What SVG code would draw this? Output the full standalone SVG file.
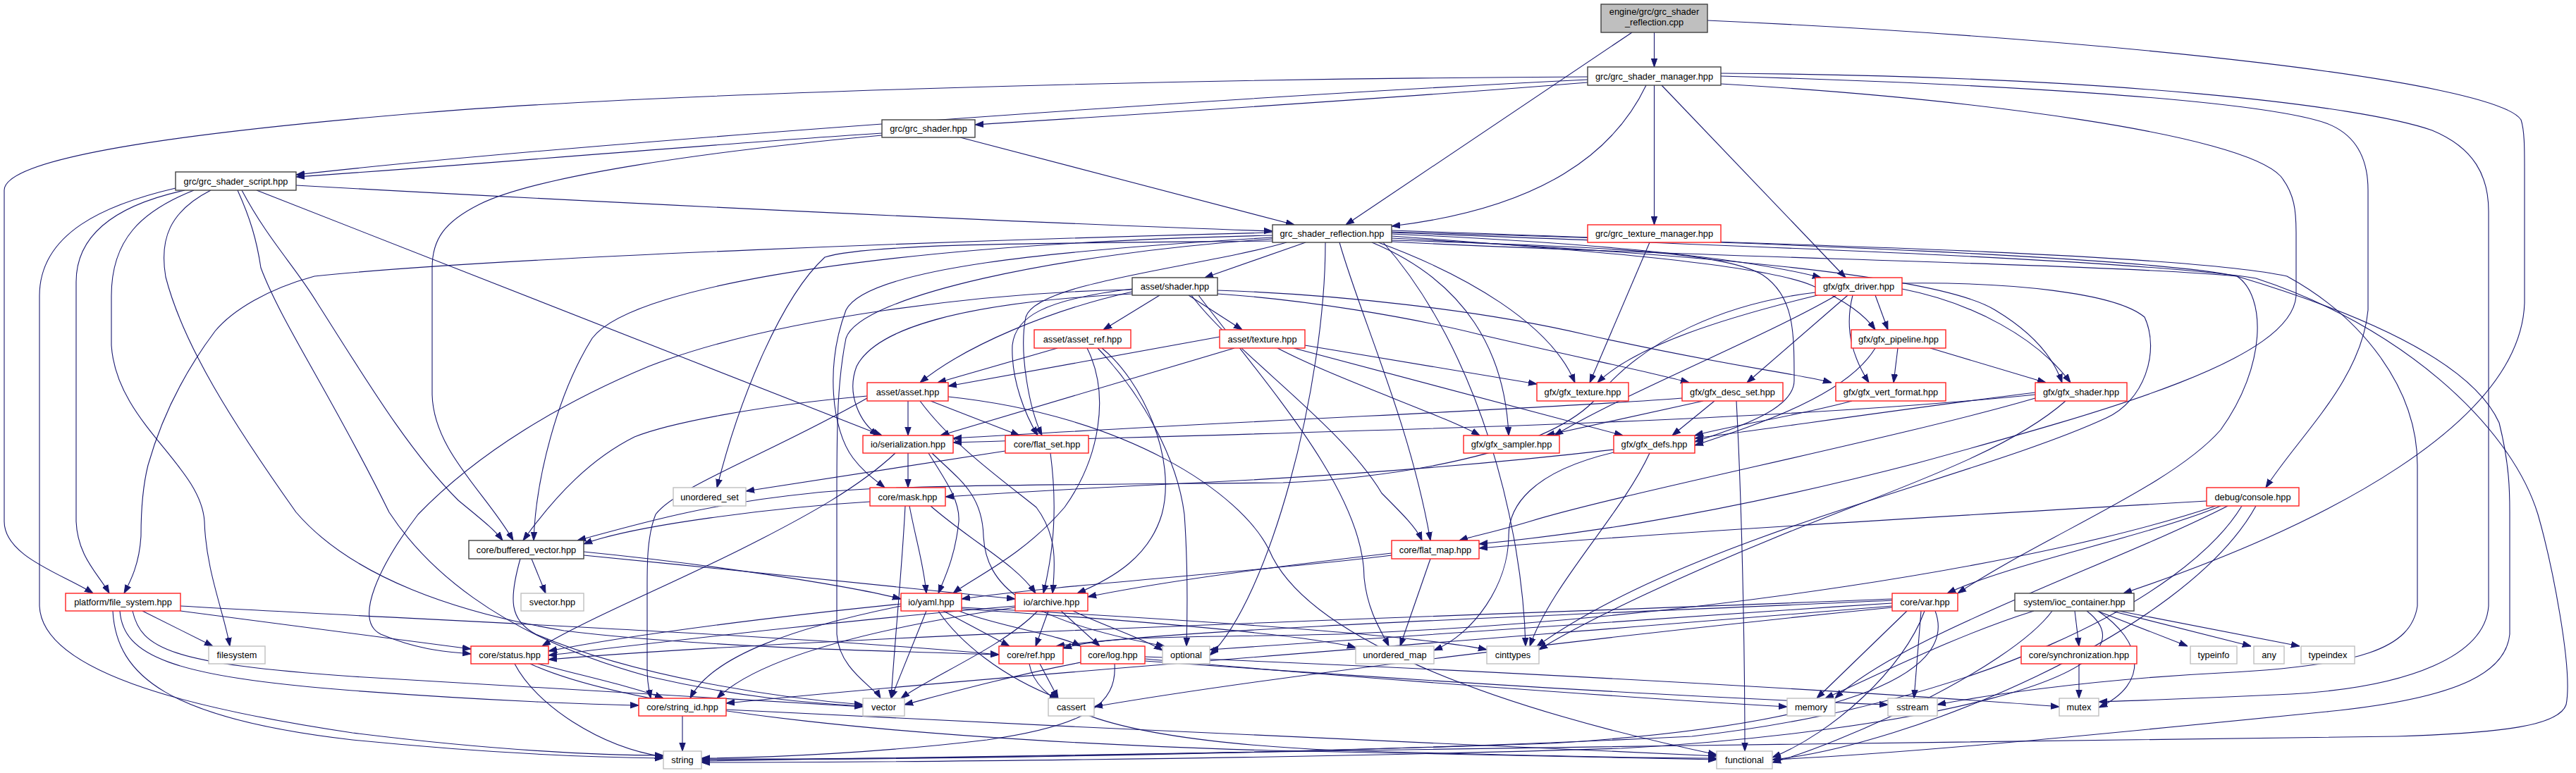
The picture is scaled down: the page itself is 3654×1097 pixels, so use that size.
<svg xmlns="http://www.w3.org/2000/svg" width="3654" height="1097" viewBox="0 0 3654 1097">
<style>
.bg{fill:#ffffff}
.e{fill:none;stroke:#191970;stroke-width:1.1;marker-end:url(#ah)}
.n rect{fill:#ffffff;stroke-width:1.4}
.blk rect{stroke:#404040}
.red rect{stroke:#ff2020}
.gry rect{stroke:#bfbfbf}
.root rect{fill:#bfbfbf;stroke:#404040}
text{font-family:"Liberation Sans",Arial,Helvetica,sans-serif;font-size:12.8px;fill:#000000;text-anchor:middle}
</style>
<defs>
<marker id="ah" viewBox="0 0 12 10" refX="12" refY="5" markerWidth="12" markerHeight="10" markerUnits="userSpaceOnUse" orient="auto">
<path d="M0,0.8 L12,5 L0,9.2 z" fill="#191970" stroke="#191970" stroke-width="1"/>
</marker>
</defs>
<rect class="bg" x="0" y="0" width="3654" height="1097"/>
<g id="connectors">
<path class="e" d="M2346.5,46 L2346.5,95"/>
<path class="e" d="M2315,46 L1909,319"/>
<path class="e" d="M2422,29 C3000,55 3540,115 3576,170 C3581,185 3581,210 3581,240 L3581,430 C3575,600 3300,745 3012,842"/>
<path class="e" d="M2335,121 C2290,215 2190,295 1974,321"/>
<path class="e" d="M2346.5,121 L2346.5,319"/>
<path class="e" d="M2357,121 L2618,394"/>
<path class="e" d="M2252,117 C2000,138 1650,160 1383,177"/>
<path class="e" d="M2252,113 C1700,140 800,205 420,248"/>
<path class="e" d="M2252,109 C1600,112 900,135 600,160 C300,185 6,220 6,270 L6,740 C6,790 90,815 132,842"/>
<path class="e" d="M2441,108 C2800,118 3200,140 3300,175 C3345,192 3359,230 3359,270 L3359,440 C3350,540 3260,620 3214,692"/>
<path class="e" d="M2441,119 C2800,140 3180,190 3235,250 C3255,275 3257,300 3257,330 L3257,420 C3250,510 3000,580 2720,657 C2400,740 2200,762 2098,772"/>
<path class="e" d="M2441,104 C3000,108 3350,150 3450,185 C3510,210 3530,250 3530,300 L3530,860 C3525,930 3420,975 3250,985 C3100,992 3030,994 2977,996"/>
<path class="e" d="M1251,189 C1000,205 700,232 420,251"/>
<path class="e" d="M1251,192 C1000,215 760,250 680,290 C630,315 613,340 613,380 L613,560 C615,640 690,700 728,767"/>
<path class="e" d="M1362,195 L1836,319"/>
<path class="e" d="M420,263 C900,290 1500,318 1805,328"/>
<path class="e" d="M364,270 L1251,618"/>
<path class="e" d="M343,270 C380,340 420,380 450,430 C520,540 580,640 650,710 C680,735 700,750 713,767"/>
<path class="e" d="M262,270 C170,290 108,330 108,400 L108,740 C110,790 140,815 155,842"/>
<path class="e" d="M275,270 C200,300 158,340 158,420 L158,490 C165,600 285,660 290,740 C292,810 318,870 326,917"/>
<path class="e" d="M249,267 C150,290 56,330 56,420 L56,860 C60,960 300,1010 500,1040 C700,1065 850,1072 941,1072"/>
<path class="e" d="M299,270 C240,300 226,340 235,393 C260,490 330,600 420,727 C500,820 650,870 800,895 C1000,920 1300,925 1417,929"/>
<path class="e" d="M337,270 C355,310 364,340 370,380 C400,460 470,560 552,727 C600,800 700,900 920,960 C1050,990 1150,998 1224,1002"/>
<path class="e" d="M1852,344 L1709,394"/>
<path class="e" d="M1974,332 C2200,342 2450,360 2583,394"/>
<path class="e" d="M1974,335 C2250,355 2500,375 2570,405 C2620,428 2645,447 2660,468"/>
<path class="e" d="M1974,338 C2400,360 2750,390 2830,440 C2880,470 2912,505 2925,543"/>
<path class="e" d="M1955,344 C2080,390 2200,460 2234,543"/>
<path class="e" d="M1946,344 C2080,400 2135,500 2140,618"/>
<path class="e" d="M1974,341 C2300,350 2450,360 2500,390 C2545,420 2545,470 2545,540 C2545,580 2470,605 2404,627"/>
<path class="e" d="M1825,344 C1700,380 1470,400 1455,450 C1445,500 1460,580 1478,618"/>
<path class="e" d="M1805,342 C1500,345 1230,345 1170,365 C1110,420 1050,560 1017,692"/>
<path class="e" d="M1805,337 C1500,355 1230,380 1200,440 C1170,520 1180,610 1210,650 C1225,670 1240,680 1255,692"/>
<path class="e" d="M1805,334 C1300,345 900,400 840,480 C790,560 760,680 757,767"/>
<path class="e" d="M1805,330 C1400,340 700,365 446,392 C380,410 330,440 305,470 C260,530 229,593 210,660 C200,700 200,740 200,760 C198,800 185,825 176,842"/>
<path class="e" d="M1900,344 C1930,450 2000,600 2029,767"/>
<path class="e" d="M1962,344 C2100,500 2160,750 2164,917"/>
<path class="e" d="M1880,344 C1880,550 1800,850 1716,930"/>
<path class="e" d="M1805,339 C1500,360 1220,420 1200,480 C1188,540 1187,600 1187,700 L1187,900 C1190,950 1240,975 1249,991"/>
<path class="e" d="M1974,330 C2500,350 3050,370 3200,395 C3400,460 3560,600 3600,730 C3620,800 3650,950 3640,1000 C3630,1030 3550,1040 3400,1045 C3000,1052 2600,1055 2400,1058 C1900,1065 1300,1075 995,1080"/>
<path class="e" d="M1974,327 C2500,345 3050,365 3173,392 C3300,430 3500,500 3545,600 C3560,660 3560,700 3560,727 L3560,900 C3555,950 3500,990 3300,1010 C3000,1040 2700,1070 2514,1078"/>
<path class="e" d="M1974,343 C2400,365 3000,375 3173,392 C3215,420 3215,520 3150,610 C3080,690 2900,760 2777,842"/>
<path class="e" d="M1974,329 C2500,345 3100,360 3244,392 C3350,450 3429,550 3429,660 L3429,860 C3420,920 3350,945 3150,955 C2950,965 2800,990 2748,1000"/>
<path class="e" d="M1645,419 L1565,468"/>
<path class="e" d="M1686,419 L1762,468"/>
<path class="e" d="M1606,414 C1490,440 1370,490 1305,543"/>
<path class="e" d="M1606,417 C1350,430 1240,470 1215,520 C1200,560 1220,600 1246,618"/>
<path class="e" d="M1606,410 C1480,425 1440,450 1436,490 C1434,540 1455,590 1472,618"/>
<path class="e" d="M1727,417 C1850,425 2000,450 2100,475 C2250,510 2350,530 2396,543"/>
<path class="e" d="M1727,412 C1900,418 2100,440 2250,475 C2450,520 2550,530 2598,543"/>
<path class="e" d="M1690,419 C1750,500 1900,600 1960,700 C1990,730 2010,750 2017,767"/>
<path class="e" d="M1700,419 C1800,550 1935,700 1935,820 C1940,870 1962,900 1970,917"/>
<path class="e" d="M1606,411 C1400,415 1100,450 920,520 C800,570 680,640 593,730 C540,800 500,880 540,900 C600,925 640,925 668,928"/>
<path class="e" d="M1500,494 L1330,543"/>
<path class="e" d="M1542,494 C1575,560 1560,650 1510,720 C1450,790 1380,820 1352,842"/>
<path class="e" d="M1563,494 C1620,540 1670,650 1648,730 C1630,790 1580,820 1528,842"/>
<path class="e" d="M1557,494 C1620,560 1670,650 1680,730 C1685,800 1684,880 1683,917"/>
<path class="e" d="M1730,478 L1345,548"/>
<path class="e" d="M1751,494 L1334,618"/>
<path class="e" d="M1851,490 L2180,545"/>
<path class="e" d="M1812,494 C1900,540 2050,590 2099,618"/>
<path class="e" d="M1835,494 L2302,618"/>
<path class="e" d="M2692,494 L2686,543"/>
<path class="e" d="M2738,494 L2902,543"/>
<path class="e" d="M2660,494 C2620,560 2500,600 2404,632"/>
<path class="e" d="M2660,419 L2678,468"/>
<path class="e" d="M2578,419 C2450,450 2320,490 2266,543"/>
<path class="e" d="M2621,419 L2478,543"/>
<path class="e" d="M2628,419 C2615,470 2630,510 2651,543"/>
<path class="e" d="M2698,410 C2800,430 2890,480 2937,543"/>
<path class="e" d="M2605,419 C2500,480 2300,560 2205,618"/>
<path class="e" d="M2575,415 C2450,430 2330,480 2260,570 C2180,650 1950,680 1820,685 C1500,688 1250,688 1150,700 C1000,715 900,745 819,767"/>
<path class="e" d="M2698,402 C2850,400 3000,415 3042,450 C3065,500 3040,570 2988,593 C2800,680 2400,760 2180,917"/>
<path class="e" d="M2416,569 L2193,618"/>
<path class="e" d="M2432,569 L2372,618"/>
<path class="e" d="M2386,565 C2200,580 1800,595 1352,622"/>
<path class="e" d="M2463,569 C2470,700 2475,900 2475,1066"/>
<path class="e" d="M2627,569 C2550,590 2450,605 2404,618"/>
<path class="e" d="M2887,557 C2700,580 2500,610 2404,622"/>
<path class="e" d="M2887,560 C2500,600 1900,612 1352,628"/>
<path class="e" d="M2887,565 C2700,620 2300,700 2170,740 C2120,755 2085,762 2070,767"/>
<path class="e" d="M2930,569 C2850,640 2700,690 2550,750 C2400,810 2250,880 2183,922"/>
<path class="e" d="M2289,638 C2100,660 1900,675 1700,685 C1550,692 1420,700 1341,705"/>
<path class="e" d="M2340,643 C2300,730 2200,830 2170,917"/>
<path class="e" d="M2289,642 C2170,670 2140,720 2140,760 C2140,830 2090,900 2034,923"/>
<path class="e" d="M1288,643 L1288,692"/>
<path class="e" d="M1317,643 C1340,680 1362,710 1360,740 C1355,790 1340,820 1331,842"/>
<path class="e" d="M1270,643 C1220,690 1150,730 1050,780 C950,830 830,880 769,917"/>
<path class="e" d="M1322,643 C1360,680 1393,700 1395,760 C1398,830 1450,880 1652,917"/>
<path class="e" d="M1426,640 L1058,697"/>
<path class="e" d="M1490,643 C1500,720 1495,780 1480,842"/>
<path class="e" d="M1234,712 C1100,720 900,745 828,772"/>
<path class="e" d="M1290,718 C1300,770 1310,800 1314,842"/>
<path class="e" d="M1320,718 C1380,770 1440,800 1469,842"/>
<path class="e" d="M1284,718 C1280,800 1270,900 1264,991"/>
<path class="e" d="M3130,711 C2800,730 2300,760 2098,778"/>
<path class="e" d="M3150,718 C3050,760 2850,800 2762,842"/>
<path class="e" d="M3143,718 C2900,800 2400,880 1900,900 C1700,905 1580,900 1508,920"/>
<path class="e" d="M3160,718 C3000,800 2700,900 2603,991"/>
<path class="e" d="M3180,718 C3100,850 2800,1000 2400,1045 C1900,1070 1300,1078 995,1078"/>
<path class="e" d="M3200,718 C3100,900 2700,1060 2514,1078"/>
<path class="e" d="M754,793 L774,842"/>
<path class="e" d="M828,783 C1000,800 1200,830 1278,850"/>
<path class="e" d="M828,788 C1050,810 1300,835 1440,850"/>
<path class="e" d="M738,793 C722,850 722,880 760,900 C900,960 1100,990 1224,1000"/>
<path class="e" d="M2029,793 L1986,917"/>
<path class="e" d="M1974,788 C1800,810 1500,830 1364,850"/>
<path class="e" d="M1974,785 C1800,805 1650,825 1543,847"/>
<path class="e" d="M202,867 L302,917"/>
<path class="e" d="M256,867 L668,921"/>
<path class="e" d="M256,860 C600,880 1100,900 1417,929"/>
<path class="e" d="M170,867 C175,930 240,960 500,980 C700,995 850,1000 906,1001"/>
<path class="e" d="M160,867 C165,960 240,1020 500,1050 C700,1070 850,1075 941,1076"/>
<path class="e" d="M188,867 C200,920 240,942 500,960 C800,980 1100,995 1224,1003"/>
<path class="e" d="M1338,867 L1432,917"/>
<path class="e" d="M1360,867 C1420,890 1500,900 1533,917"/>
<path class="e" d="M1278,860 C1130,890 1010,930 979,991"/>
<path class="e" d="M1314,867 L1264,991"/>
<path class="e" d="M1331,867 C1360,910 1420,960 1501,991"/>
<path class="e" d="M1278,857 C1100,875 900,900 778,924"/>
<path class="e" d="M1364,864 C1600,880 1850,900 1923,919"/>
<path class="e" d="M1364,862 C1700,880 2000,900 2109,922"/>
<path class="e" d="M1487,867 L1469,917"/>
<path class="e" d="M1505,867 L1560,917"/>
<path class="e" d="M1522,867 C1570,890 1620,905 1649,923"/>
<path class="e" d="M1440,862 C1250,890 1080,930 1017,991"/>
<path class="e" d="M1472,867 C1420,920 1320,960 1278,991"/>
<path class="e" d="M1440,860 C1200,880 950,910 778,930"/>
<path class="e" d="M2684,850 C2200,870 1200,900 778,936"/>
<path class="e" d="M2684,852 C2300,870 1700,890 1498,917"/>
<path class="e" d="M2684,856 C2300,880 1900,910 1716,922"/>
<path class="e" d="M2684,860 C2200,900 1400,960 1030,998"/>
<path class="e" d="M2684,862 C2300,900 1800,960 1552,1003"/>
<path class="e" d="M2705,867 L2577,991"/>
<path class="e" d="M2725,867 L2715,991"/>
<path class="e" d="M2730,867 C2700,950 2600,1040 2514,1075"/>
<path class="e" d="M2745,867 C2780,960 2600,1030 2200,1055 C1700,1072 1200,1078 995,1077"/>
<path class="e" d="M2943,867 L2949,917"/>
<path class="e" d="M2975,867 L3103,917"/>
<path class="e" d="M2995,867 L3193,917"/>
<path class="e" d="M3005,867 L3262,917"/>
<path class="e" d="M2976,867 C3040,910 3050,970 2977,1004"/>
<path class="e" d="M2885,867 C2780,900 2680,950 2589,991"/>
<path class="e" d="M2911,867 C2850,950 2600,1060 2514,1082"/>
<path class="e" d="M2960,867 C3080,960 2700,1040 2300,1062 C1800,1078 1200,1082 995,1082"/>
<path class="e" d="M2949,942 L2949,991"/>
<path class="e" d="M763,942 C830,960 900,975 941,991"/>
<path class="e" d="M730,942 C760,1000 850,1060 941,1074"/>
<path class="e" d="M752,942 C900,1010 1300,1050 1800,1065 C2100,1072 2300,1076 2435,1078"/>
<path class="e" d="M1475,942 L1501,991"/>
<path class="e" d="M1460,942 C1470,1000 1560,1050 1900,1065 C2150,1072 2350,1076 2435,1076"/>
<path class="e" d="M1533,940 C1430,960 1340,985 1283,1000"/>
<path class="e" d="M1581,942 C1585,1000 1540,1030 1400,1050 C1250,1068 1100,1075 995,1076"/>
<path class="e" d="M1624,935 C1900,960 2300,990 2535,1003"/>
<path class="e" d="M1624,938 C2000,965 2400,990 2678,1000"/>
<path class="e" d="M1624,932 C2100,950 2700,985 2921,1003"/>
<path class="e" d="M968,1016 L968,1066"/>
<path class="e" d="M1030,1007 C1500,1030 2100,1060 2435,1073"/>
<path class="e" d="M1288,569 L1288,618"/>
<path class="e" d="M1320,569 L1446,618"/>
<path class="e" d="M1230,562 C1080,575 950,600 900,620 C840,650 790,700 742,767"/>
<path class="e" d="M1230,565 C1100,640 960,690 930,730 C918,760 918,800 918,830 L918,950 C918,970 921,980 923,991"/>
<path class="e" d="M1305,569 C1350,630 1420,680 1470,720 C1500,760 1497,800 1493,842"/>
<path class="e" d="M1345,563 C1600,590 1760,700 1800,780 C1850,900 2100,1000 2435,1071"/>
<path class="e" d="M2340,344 L2255,543"/>
</g>
<g id="node-root" class="n root"><rect x="2271" y="6" width="151" height="40"/><text x="2346.5" y="21">engine/grc/grc_shader</text><text x="2346.5" y="36">_reflection.cpp</text></g>
<g id="node-grc_shader_manager" class="n blk"><rect x="2252" y="95" width="189" height="26"/><text x="2346.5" y="112.6">grc/grc_shader_manager.hpp</text></g>
<g id="node-grc_shader" class="n blk"><rect x="1251" y="170" width="132" height="25"/><text x="1317" y="187.1">grc/grc_shader.hpp</text></g>
<g id="node-grc_shader_script" class="n blk"><rect x="249" y="244" width="171" height="26"/><text x="334.5" y="261.6">grc/grc_shader_script.hpp</text></g>
<g id="node-grc_shader_reflection" class="n blk"><rect x="1805" y="319" width="169" height="25"/><text x="1889.5" y="336.1">grc_shader_reflection.hpp</text></g>
<g id="node-grc_texture_manager" class="n red"><rect x="2252" y="319" width="189" height="25"/><text x="2346.5" y="336.1">grc/grc_texture_manager.hpp</text></g>
<g id="node-asset_shader" class="n blk"><rect x="1606" y="394" width="121" height="25"/><text x="1666.5" y="411.1">asset/shader.hpp</text></g>
<g id="node-gfx_driver" class="n red"><rect x="2575" y="394" width="123" height="25"/><text x="2636.5" y="411.1">gfx/gfx_driver.hpp</text></g>
<g id="node-asset_ref" class="n red"><rect x="1467" y="468" width="137" height="26"/><text x="1535.5" y="485.6">asset/asset_ref.hpp</text></g>
<g id="node-asset_texture" class="n red"><rect x="1730" y="468" width="121" height="26"/><text x="1790.5" y="485.6">asset/texture.hpp</text></g>
<g id="node-gfx_pipeline" class="n red"><rect x="2626" y="468" width="134" height="26"/><text x="2693" y="485.6">gfx/gfx_pipeline.hpp</text></g>
<g id="node-asset_asset" class="n red"><rect x="1230" y="543" width="115" height="26"/><text x="1287.5" y="560.6">asset/asset.hpp</text></g>
<g id="node-gfx_texture" class="n red"><rect x="2180" y="543" width="130" height="26"/><text x="2245" y="560.6">gfx/gfx_texture.hpp</text></g>
<g id="node-gfx_desc_set" class="n red"><rect x="2386" y="543" width="143" height="26"/><text x="2457.5" y="560.6">gfx/gfx_desc_set.hpp</text></g>
<g id="node-gfx_vert_format" class="n red"><rect x="2604" y="543" width="156" height="26"/><text x="2682" y="560.6">gfx/gfx_vert_format.hpp</text></g>
<g id="node-gfx_shader" class="n red"><rect x="2887" y="543" width="130" height="26"/><text x="2952" y="560.6">gfx/gfx_shader.hpp</text></g>
<g id="node-io_serialization" class="n red"><rect x="1224" y="618" width="128" height="25"/><text x="1288" y="635.1">io/serialization.hpp</text></g>
<g id="node-core_flat_set" class="n red"><rect x="1426" y="618" width="118" height="25"/><text x="1485" y="635.1">core/flat_set.hpp</text></g>
<g id="node-gfx_sampler" class="n red"><rect x="2076" y="618" width="136" height="25"/><text x="2144" y="635.1">gfx/gfx_sampler.hpp</text></g>
<g id="node-gfx_defs" class="n red"><rect x="2289" y="618" width="115" height="25"/><text x="2346.5" y="635.1">gfx/gfx_defs.hpp</text></g>
<g id="node-unordered_set" class="n gry"><rect x="955" y="692" width="103" height="26"/><text x="1006.5" y="709.6">unordered_set</text></g>
<g id="node-core_mask" class="n red"><rect x="1234" y="692" width="107" height="26"/><text x="1287.5" y="709.6">core/mask.hpp</text></g>
<g id="node-debug_console" class="n red"><rect x="3130" y="692" width="131" height="26"/><text x="3195.5" y="709.6">debug/console.hpp</text></g>
<g id="node-core_buffered_vector" class="n blk"><rect x="665" y="767" width="163" height="26"/><text x="746.5" y="784.6">core/buffered_vector.hpp</text></g>
<g id="node-core_flat_map" class="n red"><rect x="1974" y="767" width="124" height="26"/><text x="2036" y="784.6">core/flat_map.hpp</text></g>
<g id="node-platform_file_system" class="n red"><rect x="93" y="842" width="163" height="25"/><text x="174.5" y="859.1">platform/file_system.hpp</text></g>
<g id="node-svector" class="n gry"><rect x="739" y="842" width="89" height="25"/><text x="783.5" y="859.1">svector.hpp</text></g>
<g id="node-io_yaml" class="n red"><rect x="1278" y="842" width="86" height="25"/><text x="1321" y="859.1">io/yaml.hpp</text></g>
<g id="node-io_archive" class="n red"><rect x="1440" y="842" width="103" height="25"/><text x="1491.5" y="859.1">io/archive.hpp</text></g>
<g id="node-core_var" class="n red"><rect x="2684" y="842" width="93" height="25"/><text x="2730.5" y="859.1">core/var.hpp</text></g>
<g id="node-system_ioc_container" class="n blk"><rect x="2858" y="842" width="169" height="25"/><text x="2942.5" y="859.1">system/ioc_container.hpp</text></g>
<g id="node-filesystem" class="n gry"><rect x="296" y="917" width="80" height="25"/><text x="336" y="934.1">filesystem</text></g>
<g id="node-core_status" class="n red"><rect x="668" y="917" width="110" height="25"/><text x="723" y="934.1">core/status.hpp</text></g>
<g id="node-core_ref" class="n red"><rect x="1417" y="917" width="91" height="25"/><text x="1462.5" y="934.1">core/ref.hpp</text></g>
<g id="node-core_log" class="n red"><rect x="1533" y="917" width="91" height="25"/><text x="1578.5" y="934.1">core/log.hpp</text></g>
<g id="node-optional" class="n gry"><rect x="1649" y="917" width="67" height="25"/><text x="1682.5" y="934.1">optional</text></g>
<g id="node-unordered_map" class="n gry"><rect x="1923" y="917" width="111" height="25"/><text x="1978.5" y="934.1">unordered_map</text></g>
<g id="node-cinttypes" class="n gry"><rect x="2109" y="917" width="74" height="25"/><text x="2146" y="934.1">cinttypes</text></g>
<g id="node-core_synchronization" class="n red"><rect x="2867" y="917" width="164" height="25"/><text x="2949" y="934.1">core/synchronization.hpp</text></g>
<g id="node-typeinfo" class="n gry"><rect x="3107" y="917" width="66" height="25"/><text x="3140" y="934.1">typeinfo</text></g>
<g id="node-any" class="n gry"><rect x="3197" y="917" width="43" height="25"/><text x="3218.5" y="934.1">any</text></g>
<g id="node-typeindex" class="n gry"><rect x="3264" y="917" width="76" height="25"/><text x="3302" y="934.1">typeindex</text></g>
<g id="node-core_string_id" class="n red"><rect x="906" y="991" width="124" height="25"/><text x="968" y="1008.1">core/string_id.hpp</text></g>
<g id="node-vector" class="n gry"><rect x="1224" y="991" width="59" height="25"/><text x="1253.5" y="1008.1">vector</text></g>
<g id="node-cassert" class="n gry"><rect x="1487" y="991" width="65" height="25"/><text x="1519.5" y="1008.1">cassert</text></g>
<g id="node-memory" class="n gry"><rect x="2535" y="991" width="68" height="25"/><text x="2569" y="1008.1">memory</text></g>
<g id="node-sstream" class="n gry"><rect x="2678" y="991" width="70" height="25"/><text x="2713" y="1008.1">sstream</text></g>
<g id="node-mutex" class="n gry"><rect x="2921" y="991" width="56" height="25"/><text x="2949" y="1008.1">mutex</text></g>
<g id="node-string" class="n gry"><rect x="941" y="1066" width="54" height="25"/><text x="968" y="1083.1">string</text></g>
<g id="node-functional" class="n gry"><rect x="2435" y="1066" width="79" height="25"/><text x="2474.5" y="1083.1">functional</text></g>
</svg>
